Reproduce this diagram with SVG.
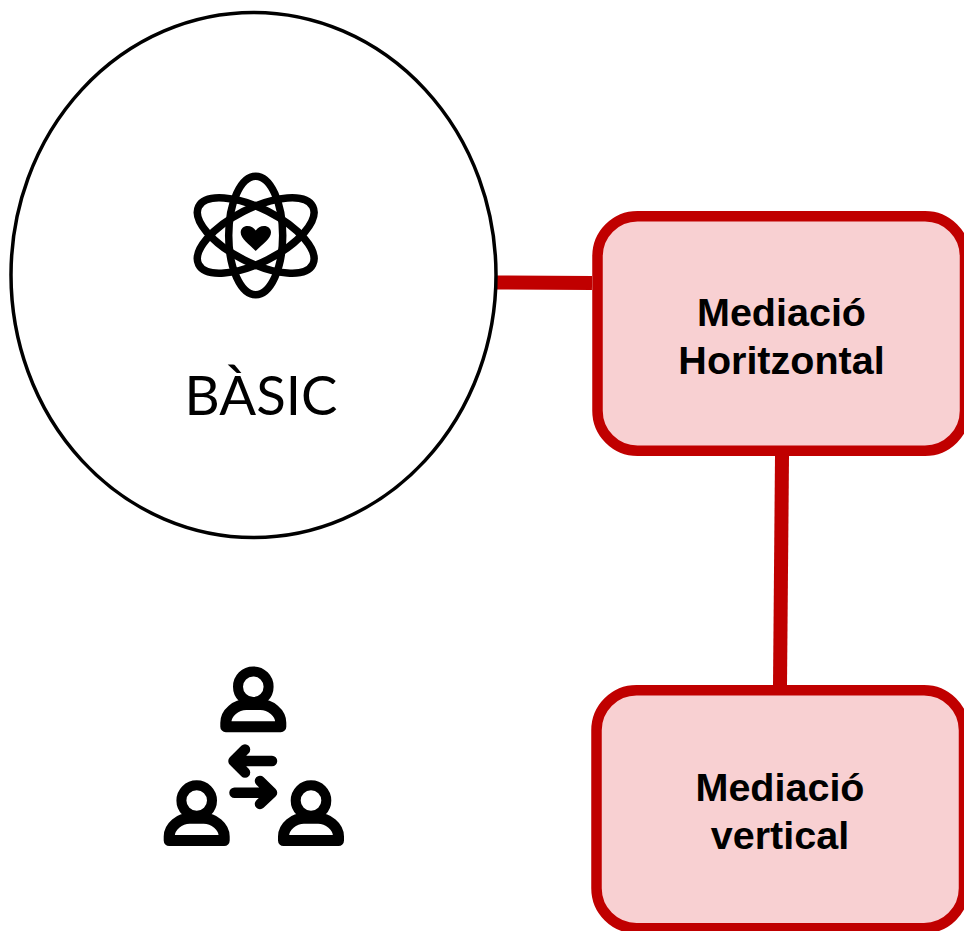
<svg xmlns="http://www.w3.org/2000/svg" width="964" height="931" viewBox="0 0 964 931">
<style>
.box{fill:#f8d0d2;stroke:#c00000;stroke-width:10.5}
.conn{stroke:#c00000;stroke-width:14;fill:none}
.lbl{font-family:"Liberation Sans",Arial,sans-serif;font-weight:700;font-size:39.5px;text-anchor:middle;fill:#000}
.ic{fill:none;stroke:#000;stroke-linecap:round;stroke-linejoin:round}
</style>
<defs>
<g id="person" class="ic">
<circle cx="0" cy="0" r="15.300" stroke-width="10"/>
<path d="M-27.500 40H27.500V36C27.500 26 17 17.800 7 17.800H-7C-17 17.800 -27.500 26 -27.500 36Z" stroke-width="11"/>
</g>
</defs>
<rect width="964" height="931" fill="#fff"/>
<g id="connectors">
<path class="conn" d="M497 282.500L592 283"/>
<path class="conn" d="M782 456L780 685"/>
</g>
<g id="basic">
<ellipse cx="253.500" cy="275" rx="242.500" ry="262.500" fill="#fff" stroke="#000" stroke-width="3.500"/>
<g class="ic" stroke-width="7.500">
<ellipse cx="255.700" cy="235.500" rx="27" ry="59.200"/>
<ellipse cx="255.700" cy="235.500" rx="27" ry="64" transform="rotate(63 255.700 235.500)"/>
<ellipse cx="255.700" cy="235.500" rx="27" ry="64" transform="rotate(-63 255.700 235.500)"/>
</g>
<path d="M255.700 251C249 244 240.700 238.500 240.700 232.500C240.700 228.500 243.700 226 247.500 226C251 226 254 227.800 255.700 230.500C257.500 227.800 260.500 226 264 226C268 226 271 228.500 271 232.500C271 238.500 262.500 244 255.700 251Z" fill="#000"/>
<text x="261" y="415" font-family="Lato,Carlito,sans-serif" font-size="54.500" text-anchor="middle" fill="#000">BÀSIC</text>
</g>
<g id="people">
<use href="#person" x="253.300" y="686.700"/>
<use href="#person" x="196.700" y="800.500"/>
<use href="#person" x="311" y="800.500"/>
<g class="ic" stroke-width="10.500">
<path d="M272 761H235M245 749.500L233.500 761L245 772.500"/>
<path d="M234.500 792.700H271M260 781L272 792.700L260 804"/>
</g>
</g>
<g id="horizontal">
<rect class="box" x="597.500" y="216.200" width="367.500" height="234.500" rx="40" ry="40"/>
<text class="lbl" x="781.500" y="326">Mediació</text>
<text class="lbl" x="781.500" y="374">Horitzontal</text>
</g>
<g id="vertical">
<rect class="box" x="596.500" y="690.200" width="367.500" height="238" rx="40" ry="40"/>
<text class="lbl" x="780" y="801">Mediació</text>
<text class="lbl" x="780" y="849">vertical</text>
</g>
</svg>
